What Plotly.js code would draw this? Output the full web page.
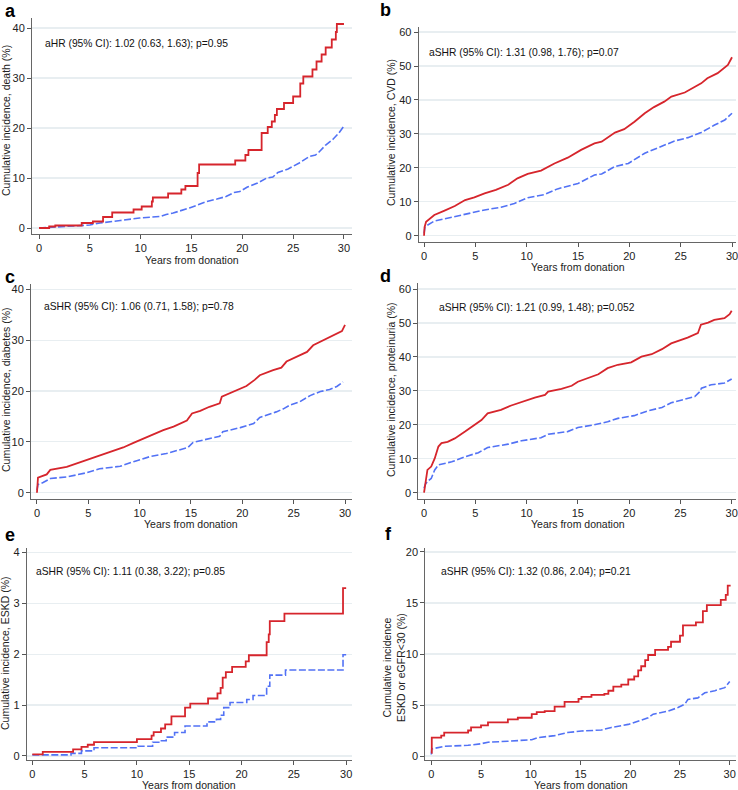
<!DOCTYPE html>
<html>
<head>
<meta charset="utf-8">
<script src="https://cdn.plot.ly/plotly-3.0.1.min.js"></script>
<style>html,body{margin:0;padding:0;background:#fff;}#chart{width:738px;height:790px;}</style>
</head>
<body>
<div id="chart"></div>
<script>
// ---- Data (years from donation, cumulative incidence %) ----
const xTicks = [0, 5, 10, 15, 20, 25, 30];

// a: death
const aRedT  = [0, 1.0, 1.6, 4.2, 5.3, 6.3, 7.2, 9.3, 10.1, 11.1, 11.2, 12.7, 14.0, 14.4, 15.6, 15.75, 19.3, 20.3, 20.6, 21.9, 22.5, 22.9, 23.2, 23.4, 24.1, 25.0, 25.7, 26.0, 26.9, 27.3, 27.8, 28.2, 28.8, 29.2, 29.3, 30];
const aRedY  = [0, 0.3, 0.5, 1.0, 1.3, 2.2, 3.1, 3.7, 4.3, 5.3, 6.1, 6.9, 7.7, 8.4, 11.0, 12.7, 13.5, 14.6, 15.6, 19.0, 20.2, 21.3, 22.6, 23.8, 25.0, 26.3, 28.9, 30.3, 31.7, 33.3, 34.7, 36.1, 37.7, 39.2, 40.8, 40.8];
const aBlueT = [0, 2, 4, 5, 6, 7, 8, 9.9, 11.9, 12.5, 13.2, 14.8, 16.5, 17.5, 18.4, 19.2, 19.75, 20.5, 21.5, 22.4, 23.0, 23.5, 24.5, 25.6, 26.6, 27.2, 27.6, 28.2, 28.9, 29.5, 30];
const aBlueY = [0, 0.2, 0.4, 0.6, 1.0, 1.2, 1.5, 2.0, 2.3, 2.7, 3.0, 4.0, 5.3, 5.8, 6.3, 7.1, 7.3, 8.2, 9.0, 10.0, 10.2, 11.1, 11.8, 13.0, 14.3, 14.6, 15.3, 16.6, 17.7, 19.0, 20.4];

// b: CVD
const bRedT  = [0, 0.05, 0.2, 1, 2, 3, 4, 4.9, 5.9, 7, 8.2, 9.1, 10.1, 11.4, 12.7, 14, 15.3, 16.6, 17.3, 18.6, 19.5, 20.5, 21.5, 22.4, 23.4, 24.1, 25.4, 26, 27, 27.6, 28.6, 29.6, 30];
const bRedY  = [0, 2.5, 4.1, 6.1, 7.4, 8.75, 10.5, 11.3, 12.5, 13.5, 15, 16.9, 18.2, 19.2, 21.3, 23, 25.3, 27.2, 27.7, 30.4, 31.4, 33.6, 36.1, 37.9, 39.5, 41, 42.2, 43.2, 44.9, 46.4, 47.9, 50.3, 52.6];
const bBlueT = [0, 0.1, 1, 3, 4.3, 5.9, 7.5, 8.8, 10.1, 11.7, 13, 15, 16.6, 17.3, 18.6, 19.9, 21.5, 23.1, 24.4, 25.7, 27, 28.3, 29.3, 30];
const bBlueY = [0.7, 2.7, 4.3, 5.6, 6.6, 7.6, 8.4, 9.5, 11.2, 12.1, 13.8, 15.4, 17.9, 18.2, 20.4, 21.3, 24.3, 26.3, 27.9, 28.9, 30.4, 32.6, 34.1, 36.1];

// c: diabetes
const cRedT  = [0, 0.1, 0.95, 1.3, 2.9, 3.9, 4.8, 6.1, 7.4, 8.4, 9.4, 10.4, 11.3, 12.3, 13.3, 14.6, 15.1, 15.9, 16.8, 17.8, 18.0, 19.1, 20.4, 21.2, 21.7, 23.0, 23.8, 24.3, 25.3, 26.3, 26.9, 27.9, 28.9, 29.7, 30];
const cRedY  = [0, 2.95, 3.6, 4.5, 5.1, 5.8, 6.3, 7.2, 8.1, 8.9, 9.8, 10.7, 11.5, 12.3, 13.0, 14.2, 15.6, 16.1, 16.9, 17.6, 18.9, 19.9, 21.0, 22.2, 23.1, 24.1, 24.6, 25.8, 26.8, 27.7, 29.0, 30.0, 31.1, 31.8, 33.0];
const cBlueT = [0, 0.1, 0.6, 1.3, 2.9, 4.8, 6.1, 8.1, 9.4, 11.0, 12.6, 13.9, 14.7, 15.2, 16.5, 17.8, 18.1, 19.8, 21.1, 21.7, 23.3, 24.0, 24.6, 25.6, 26.6, 27.6, 28.5, 29.2, 29.8];
const cBlueY = [0.5, 1.6, 2.0, 2.8, 3.1, 3.9, 4.7, 5.2, 6.1, 7.1, 7.7, 8.4, 8.9, 9.9, 10.5, 11.1, 12.0, 12.8, 13.6, 14.8, 15.9, 16.5, 17.2, 17.9, 19.1, 19.9, 20.3, 20.9, 21.8];

// d: proteinuria
const dRedT  = [0, 0.13, 0.33, 0.7, 1.04, 1.4, 1.7, 2.3, 3, 4, 4.6, 5.6, 6.2, 7.5, 8.5, 9.5, 10.8, 11.8, 12.1, 13.4, 14.4, 15, 16, 17, 17.9, 18.9, 20.2, 21.2, 22.2, 23.2, 24.1, 25.1, 25.7, 26.7, 27, 27.7, 28.3, 29.3, 29.8, 30];
const dRedY  = [0, 3.2, 6.7, 7.7, 10.1, 13.6, 14.6, 15, 16, 18, 19.2, 21.4, 23.4, 24.4, 25.7, 26.8, 28, 28.8, 29.8, 30.6, 31.5, 32.7, 33.7, 34.9, 36.7, 37.7, 38.4, 40.1, 40.8, 42.3, 44, 45, 45.7, 47, 49.5, 50.1, 50.9, 51.4, 52.6, 53.6];
const dBlueT = [0, 0.13, 0.4, 0.7, 1.04, 1.4, 2.7, 4, 5.3, 6.2, 8.2, 9.5, 11.4, 12.1, 14, 15, 16.6, 17.9, 18.9, 20.5, 21.8, 23.2, 24.1, 25.4, 26.4, 26.9, 27.05, 28, 29.3, 30];
const dBlueY = [1.3, 2.5, 3.5, 4.2, 6.7, 8.2, 9.1, 10.6, 11.8, 13.3, 14.3, 15.3, 16.2, 17.2, 18, 19.2, 20, 20.9, 21.9, 22.7, 24.1, 25.1, 26.5, 27.5, 28.3, 29.8, 30.8, 31.8, 32.3, 33.5];

// e: ESKD
const eRedT  = [0, 1.0, 3.9, 4.7, 5.3, 5.9, 10.0, 11.4, 11.6, 12.3, 12.7, 13.3, 14.6, 15.1, 16.8, 17.7, 18.0, 18.2, 18.5, 19.1, 20.4, 20.7, 22.4, 22.6, 22.7, 24.1, 29.7, 30];
const eRedY  = [0.03, 0.08, 0.13, 0.18, 0.22, 0.27, 0.33, 0.40, 0.47, 0.54, 0.62, 0.78, 0.95, 1.03, 1.13, 1.23, 1.34, 1.54, 1.65, 1.75, 1.86, 1.98, 2.24, 2.39, 2.65, 2.80, 3.30, 3.30];
const eBlueT = [0, 3.7, 4.7, 5.9, 10.1, 11.5, 12.2, 12.8, 13.6, 14.6, 16.7, 17.6, 18.0, 18.3, 18.9, 20.5, 21.1, 22.4, 22.7, 24.2, 29.7, 30];
const eBlueY = [0.02, 0.05, 0.10, 0.16, 0.19, 0.27, 0.30, 0.37, 0.46, 0.59, 0.67, 0.72, 0.80, 0.95, 1.05, 1.11, 1.19, 1.37, 1.59, 1.69, 1.99, 1.99];

// f: ESKD or eGFR<30
const fRedT  = [0, 0.05, 1.0, 1.3, 3.7, 4.0, 5.0, 5.7, 7.7, 8.7, 10.1, 10.6, 11.4, 12.4, 13.4, 14.8, 15.1, 16.1, 17.4, 17.8, 18.3, 19.1, 19.8, 20.4, 20.8, 21.1, 21.5, 21.8, 22.5, 23.8, 24.1, 25.0, 25.3, 26.6, 27.3, 27.7, 29.1, 29.6, 29.8, 30];
const fRedY  = [0.3, 1.8, 2.0, 2.3, 2.5, 2.8, 3.0, 3.3, 3.6, 3.75, 4.1, 4.3, 4.4, 4.85, 5.3, 5.6, 5.8, 6.0, 6.1, 6.4, 6.8, 7.0, 7.5, 7.8, 8.4, 8.8, 9.4, 9.9, 10.4, 10.7, 11.2, 11.8, 12.8, 13.1, 14.2, 14.8, 15.3, 15.8, 16.7, 16.8];
const fBlueT = [0, 0.05, 1.3, 3.7, 5, 5.7, 7.7, 9, 10.1, 10.7, 12.4, 13.7, 15.1, 17.1, 18.1, 19.8, 20.4, 21.8, 22.3, 23.8, 24.8, 25.5, 25.8, 26.8, 27.5, 28.5, 29.5, 30];
const fBlueY = [0.15, 0.7, 0.95, 1.05, 1.2, 1.35, 1.45, 1.55, 1.6, 1.8, 2.0, 2.3, 2.45, 2.55, 2.8, 3.1, 3.3, 3.75, 4.1, 4.4, 4.75, 5.1, 5.55, 5.7, 6.2, 6.4, 6.7, 7.3];

const panelLabels = ['a', 'b', 'c', 'd', 'e', 'f'];
const yTitles = [
  'Cumulative incidence, death (%)',
  'Cumulative incidence, CVD (%)',
  'Cumulative incidence, diabetes (%)',
  'Cumulative incidence, proteinuria (%)',
  'Cumulative incidence, ESKD (%)',
  'Cumulative incidence<br>ESKD or eGFR<30 (%)'
];
const statTexts = [
  'aHR (95% CI): 1.02 (0.63, 1.63); p=0.95',
  'aSHR (95% CI): 1.31 (0.98, 1.76); p=0.07',
  'aSHR (95% CI): 1.06 (0.71, 1.58); p=0.78',
  'aSHR (95% CI): 1.21 (0.99, 1.48); p=0.052',
  'aSHR (95% CI): 1.11 (0.38, 3.22); p=0.85',
  'aSHR (95% CI): 1.32 (0.86, 2.04); p=0.21'
];
const xTitle = 'Years from donation';

// ---- Layout geometry (pixels) ----
const W = 738, H = 790;
const panels = [
  {red:[aRedT,aRedY], blue:[aBlueT,aBlueY], redShape:'hv', blueShape:'linear',
   px:[32,352], py:[18,233.5], xr:[-0.69,30.79], yr:[-1.1,42], dtick:10,
   stat:[0.4,37], xt:[191.5,259.5], yt:[6,121], lab:[10,11]},
  {red:[bRedT,bRedY], blue:[bBlueT,bBlueY], redShape:'linear', blueShape:'linear',
   px:[418.7,736], py:[27,241.7], xr:[-0.52,30.39], yr:[-1.76,61.5], dtick:10,
   stat:[0.3,54], xt:[578,266.5], yt:[391,133], lab:[385,10]},
  {red:[cRedT,cRedY], blue:[cBlueT,cBlueY], redShape:'linear', blueShape:'linear',
   px:[31,352], py:[284.3,499], xr:[-0.58,30.68], yr:[-1.24,41], dtick:10,
   stat:[0.45,36.7], xt:[191,523.5], yt:[6,390], lab:[10,277]},
  {red:[dRedT,dRedY], blue:[dBlueT,dBlueY], redShape:'linear', blueShape:'linear',
   px:[418.3,736], py:[283.3,499], xr:[-0.56,30.42], yr:[-1.86,61.7], dtick:10,
   stat:[1.25,54.6], xt:[578,523.5], yt:[391,390], lab:[385,276]},
  {red:[eRedT,eRedY], blue:[eBlueT,eBlueY], redShape:'hv', blueShape:'hv',
   px:[26.7,351.7], py:[548,760], xr:[-0.535,30.53], yr:[-0.08,4.09], dtick:1,
   stat:[0.15,3.63], xt:[189,785], yt:[5,654], lab:[10,535]},
  {red:[fRedT,fRedY], blue:[fBlueT,fBlueY], redShape:'hv', blueShape:'linear',
   px:[425.3,736], py:[548,760], xr:[-0.6,30.63], yr:[-0.39,20.39], dtick:5,
   stat:[0.8,18.1], xt:[580.5,785], yt:[394,668], lab:[388,534]}
];

const RED = '#d6252c', BLUE = '#5272f5';
const FONT = 'Liberation Sans, Arial, sans-serif';
const traces = [];
const layout = {
  width: W, height: H,
  margin: {l:0, r:0, t:0, b:0},
  paper_bgcolor: '#ffffff', plot_bgcolor: '#ffffff',
  showlegend: false,
  font: {family: FONT, size: 11, color: '#222'},
  annotations: []
};

panels.forEach((p, i) => {
  const n = i + 1;
  const xa = 'x' + (n === 1 ? '' : n), ya = 'y' + (n === 1 ? '' : n);
  const xk = 'xaxis' + (n === 1 ? '' : n), yk = 'yaxis' + (n === 1 ? '' : n);
  traces.push({x: p.blue[0], y: p.blue[1], xaxis: xa, yaxis: ya, type: 'scatter', mode: 'lines',
    line: {color: BLUE, width: 1.6, dash: '7px,2.5px', shape: p.blueShape}, hoverinfo: 'skip'});
  traces.push({x: p.red[0], y: p.red[1], xaxis: xa, yaxis: ya, type: 'scatter', mode: 'lines',
    line: {color: RED, width: 1.8, shape: p.redShape}, hoverinfo: 'skip'});
  layout[xk] = {
    domain: [p.px[0] / W, p.px[1] / W], anchor: ya, range: p.xr,
    tickvals: xTicks, ticks: 'outside', ticklen: 4, tickcolor: '#555', tickwidth: 1,
    showline: true, linecolor: '#666', linewidth: 1, showgrid: false, zeroline: false,
    ticklabeloverflow: 'allow',
    tickfont: {family: FONT, size: 11, color: '#222'}, fixedrange: true
  };
  const yt = [];
  for (let v = 0; v <= p.yr[1] + 1e-9; v += p.dtick) yt.push(Math.round(v * 100) / 100);
  layout[yk] = {
    domain: [1 - p.py[1] / H, 1 - p.py[0] / H], anchor: xa, range: p.yr,
    tickvals: yt, ticks: 'outside', ticklen: 4, tickcolor: '#555', tickwidth: 1,
    showline: true, linecolor: '#666', linewidth: 1, showgrid: true, gridcolor: '#e8eef1', gridwidth: 1.2,
    zeroline: false, ticklabeloverflow: 'allow',
    tickfont: {family: FONT, size: 11, color: '#222'}, fixedrange: true
  };
  layout.annotations.push({
    xref: xa, yref: ya, x: p.stat[0], y: p.stat[1], xanchor: 'left', yanchor: 'middle',
    text: statTexts[i], showarrow: false, font: {family: FONT, size: 10.3, color: '#111'}
  });
  layout.annotations.push({
    xref: 'paper', yref: 'paper', x: p.xt[0] / W, y: 1 - p.xt[1] / H, xanchor: 'center', yanchor: 'middle',
    text: xTitle, showarrow: false, font: {family: FONT, size: 10.5, color: '#222'}
  });
  layout.annotations.push({
    xref: 'paper', yref: 'paper', x: p.yt[0] / W, y: 1 - p.yt[1] / H, xanchor: 'center', yanchor: 'middle',
    text: yTitles[i], textangle: -90, showarrow: false, font: {family: FONT, size: 10.5, color: '#222'}
  });
  layout.annotations.push({
    xref: 'paper', yref: 'paper', x: p.lab[0] / W, y: 1 - p.lab[1] / H, xanchor: 'center', yanchor: 'middle',
    text: '<b>' + panelLabels[i] + '</b>', showarrow: false, font: {family: FONT, size: 18, color: '#000'}
  });
});

Plotly.newPlot('chart', traces, layout, {staticPlot: true, displayModeBar: false});
</script>
</body>
</html>
